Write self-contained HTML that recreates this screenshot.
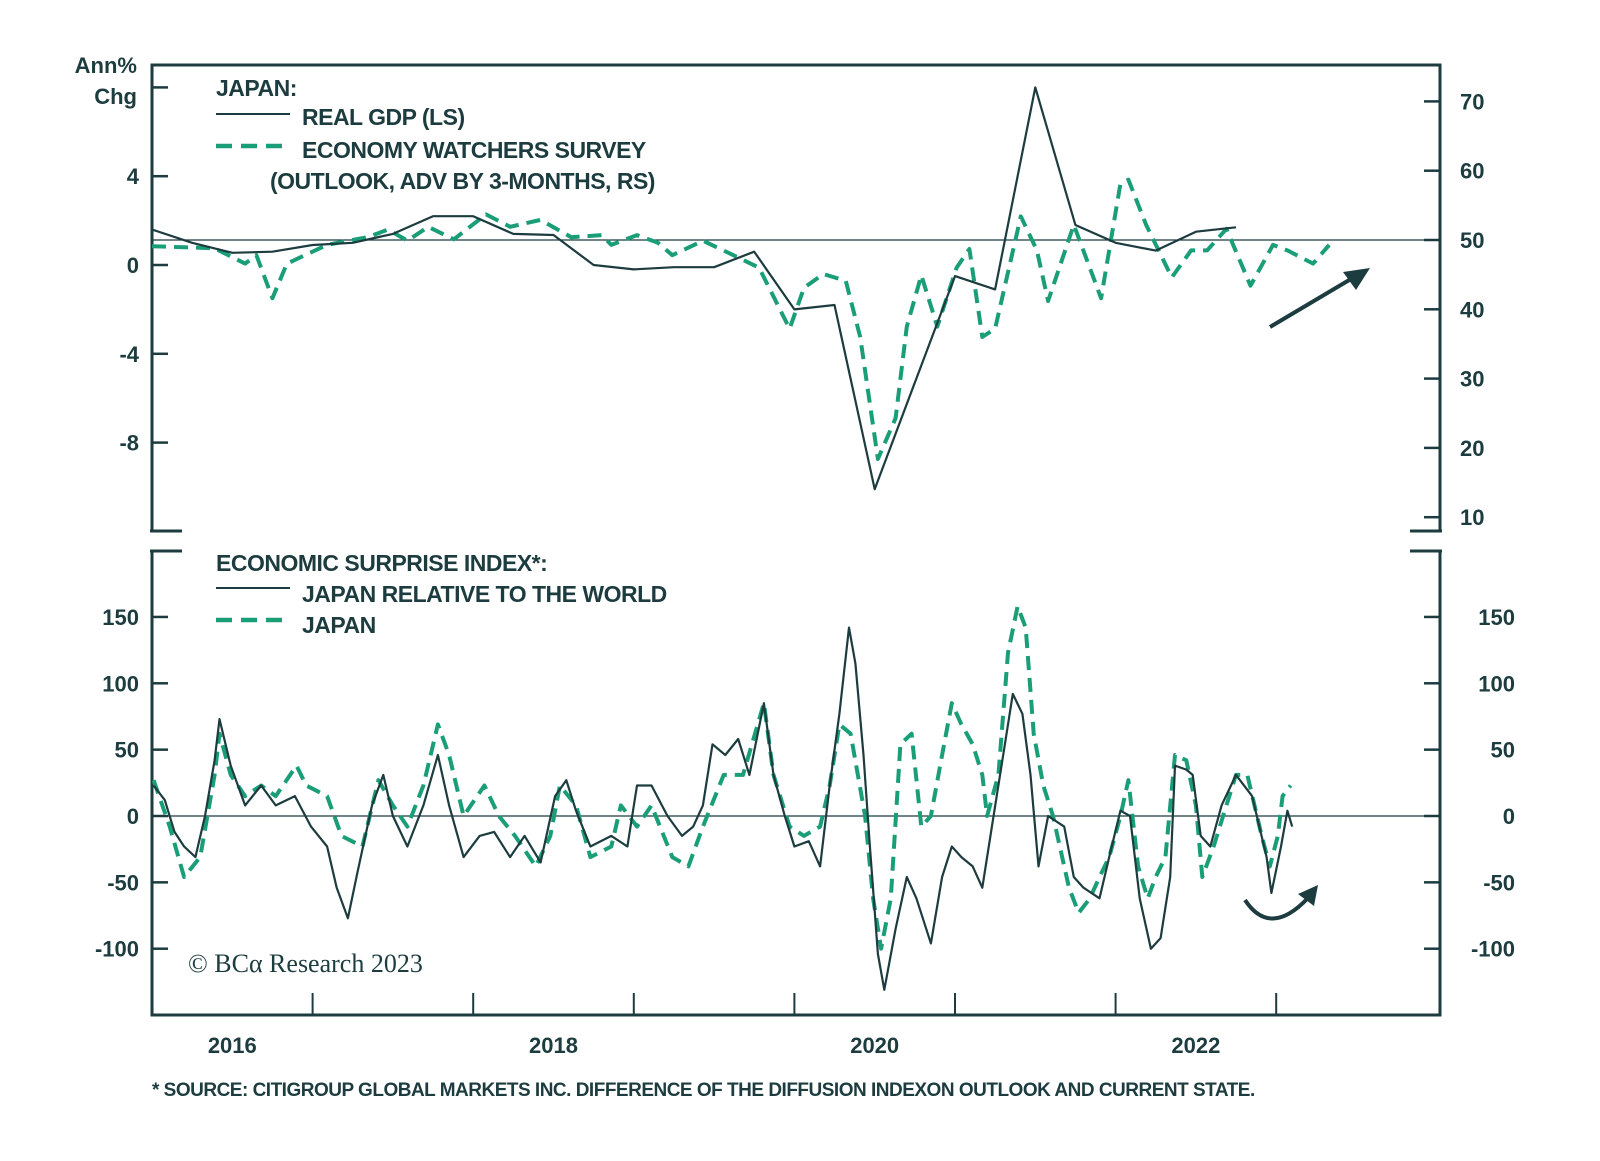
<!DOCTYPE html>
<html><head><meta charset="utf-8"><style>
body{margin:0;background:#fff;width:1600px;height:1156px;overflow:hidden}
svg text{font-family:"Liberation Sans Narrow","Liberation Sans",sans-serif;fill:#1d3c3f;font-weight:bold}
</style></head><body>
<svg id="c" width="1600" height="1156" viewBox="0 0 1600 1156"></svg>
<script>
// ---- data ----
const gdpDates=[2016.0,2016.25,2016.5,2016.75,2017.0,2017.25,2017.5,2017.75,2018.0,2018.25,2018.5,2018.75,2019.0,2019.25,2019.5,2019.75,2020.0,2020.25,2020.5,2020.75,2021.0,2021.25,2021.5,2021.75,2022.0,2022.25,2022.5,2022.75];
const gdpValues=[1.6,1.0,0.55,0.6,0.9,1.0,1.4,2.2,2.2,1.4,1.35,0.0,-0.2,-0.1,-0.1,0.6,-2.0,-1.8,-10.1,-5.3,-0.5,-1.1,8.0,1.8,1.0,0.65,1.5,1.7];
const ewsDates=[2016.0,2016.39,2016.58,2016.65,2016.75,2016.84,2017.09,2017.34,2017.47,2017.59,2017.72,2017.88,2018.08,2018.23,2018.42,2018.61,2018.80,2018.86,2019.02,2019.15,2019.24,2019.43,2019.62,2019.78,2019.97,2020.06,2020.18,2020.32,2020.41,2020.52,2020.63,2020.70,2020.79,2020.89,2021.01,2021.09,2021.17,2021.25,2021.41,2021.51,2021.58,2021.74,2021.91,2022.03,2022.08,2022.19,2022.35,2022.47,2022.57,2022.69,2022.84,2022.98,2023.07,2023.23,2023.33];
const ewsValues=[49.1,48.8,46.6,47.8,41.6,46.6,49.3,50.4,51.5,49.9,51.9,50.1,53.7,51.9,52.9,50.4,50.7,49.3,50.7,49.6,47.8,49.9,47.8,46.0,37.2,43.1,45.1,44.1,36.0,18.4,24.3,37.5,44.9,37.5,46.0,48.7,36.0,37.2,53.4,48.5,41.2,52.2,41.6,58.1,58.7,52.2,44.6,48.5,48.5,51.6,43.4,49.3,48.5,46.6,49.3];
const relDates=[2016.01,2016.08,2016.14,2016.20,2016.27,2016.33,2016.39,2016.42,2016.49,2016.58,2016.68,2016.77,2016.89,2016.99,2017.09,2017.15,2017.22,2017.28,2017.37,2017.44,2017.50,2017.59,2017.69,2017.78,2017.85,2017.94,2018.04,2018.13,2018.23,2018.32,2018.42,2018.51,2018.58,2018.64,2018.73,2018.86,2018.96,2019.02,2019.11,2019.21,2019.30,2019.37,2019.43,2019.49,2019.57,2019.65,2019.72,2019.81,2019.87,2019.94,2020.00,2020.09,2020.16,2020.22,2020.28,2020.34,2020.38,2020.43,2020.47,2020.52,2020.56,2020.63,2020.70,2020.76,2020.85,2020.92,2020.98,2021.04,2021.11,2021.17,2021.23,2021.30,2021.36,2021.42,2021.47,2021.52,2021.58,2021.68,2021.74,2021.80,2021.90,2021.96,2022.03,2022.09,2022.15,2022.22,2022.28,2022.34,2022.37,2022.44,2022.48,2022.53,2022.59,2022.66,2022.75,2022.85,2022.94,2022.97,2023.03,2023.07,2023.10];
const relValues=[23,12,-12,-23,-31,0,42,73,38,8,23,8,15,-8,-23,-54,-77,-42,8,31,0,-23,8,46,8,-31,-15,-12,-31,-15,-35,15,27,4,-23,-15,-23,23,23,0,-15,-8,8,54,46,58,31,85,31,0,-23,-19,-38,23,77,142,115,46,-23,-104,-131,-85,-46,-62,-96,-46,-23,-31,-38,-54,-8,46,92,77,31,-38,0,-8,-46,-54,-62,-31,4,0,-62,-100,-92,-46,38,35,31,-15,-23,8,31,15,-31,-58,-23,4,-8];
const japDates=[2016.01,2016.11,2016.20,2016.30,2016.39,2016.42,2016.49,2016.58,2016.68,2016.77,2016.90,2016.96,2017.09,2017.18,2017.31,2017.41,2017.50,2017.59,2017.69,2017.78,2017.85,2017.94,2018.07,2018.16,2018.26,2018.39,2018.48,2018.54,2018.64,2018.73,2018.86,2018.92,2019.02,2019.11,2019.24,2019.34,2019.43,2019.56,2019.68,2019.81,2019.87,2019.97,2020.06,2020.16,2020.22,2020.28,2020.35,2020.44,2020.49,2020.54,2020.60,2020.66,2020.73,2020.79,2020.85,2020.92,2020.98,2021.04,2021.11,2021.17,2021.20,2021.27,2021.33,2021.39,2021.44,2021.49,2021.55,2021.61,2021.71,2021.77,2021.84,2021.90,2021.96,2022.03,2022.08,2022.14,2022.20,2022.25,2022.31,2022.37,2022.44,2022.50,2022.54,2022.61,2022.69,2022.75,2022.82,2022.91,2022.96,2023.01,2023.04,2023.09];
const japValues=[27,-8,-46,-31,31,62,31,15,23,15,38,23,15,-15,-23,27,8,-8,23,69,46,0,23,0,-15,-38,-15,23,8,-31,-23,8,-8,8,-31,-38,-8,31,31,85,31,-8,-15,-8,23,69,62,0,-62,-100,-62,54,62,-8,0,46,85,69,54,31,0,31,123,158,142,62,23,0,-54,-73,-62,-46,-31,0,27,-38,-62,-46,-31,46,42,8,-46,-23,8,31,31,-15,-38,-15,15,23];
const xTickYears=[2017,2018,2019,2020,2021,2022,2023];
const xLabels=["2016","2018","2020","2022"];
const xLabelPos=[2016.5,2018.5,2020.5,2022.5];
const leftTopTicks=[8,4,0,-4,-8];
const leftTopLabels=["","4","0","-4","-8"];
const rightTopTicks=[70,60,50,40,30,20,10];
const botTicks=[150,100,50,0,-50,-100];

// ---- scales ----
const X0=152,X1=1440,T0=2016,T1=2024.02;
const x=t=>X0+(t-T0)/(T1-T0)*(X1-X0);
const TY0=65,TY1=531;
const yL=v=>265-v*22.2;
const yR=v=>240-(v-50)*6.93;
const yB=v=>816-v*1.327;
const DARK="#1d3c3f",GREEN="#1a9e78";
const svg=document.getElementById('c');
const NS="http://www.w3.org/2000/svg";
function mk(tag,attrs,parent){const e=document.createElementNS(NS,tag);for(const k in attrs)e.setAttribute(k,attrs[k]);(parent||svg).appendChild(e);return e;}
function line(x1,y1,x2,y2,w,c){return mk('line',{x1,y1,x2,y2,stroke:c||DARK,'stroke-width':w});}
function txt(s,xx,yy,size,anchor){const t=mk('text',{x:xx,y:yy,'font-size':size,'text-anchor':anchor||'start'});t.textContent=s;return t;}

let f;
f=mk('path',{d:`M${X0},${TY1} V${TY0} H${X1} V${TY1} M${X0-2},${TY1} h32 M${X1+2},${TY1} h-32`,fill:'none',stroke:DARK,'stroke-width':3});

f=mk('path',{d:`M${X0},551 V1015 H${X1} V551 M${X0-2},551 h32 M${X1+2},551 h-32`,fill:'none',stroke:DARK,'stroke-width':3});


f=line(X0,yR(50),X1,yR(50),1.3);

f=line(X0,yB(0),X1,yB(0),1.3);


leftTopTicks.forEach((v,i)=>{line(X0,yL(v),X0+16,yL(v),2.5);
 if(leftTopLabels[i]){const t=txt(leftTopLabels[i],139,yL(v)+8,22,'end');}});
rightTopTicks.forEach(v=>{line(X1-16,yR(v),X1,yR(v),2.5);
 const t=txt(String(v),1460,yR(v)+8,22);});
botTicks.forEach(v=>{line(X0,yB(v),X0+16,yB(v),2.5);line(X1-16,yB(v),X1,yB(v),2.5);
 let t=txt(String(v),139,yB(v)+8,22,'end');
 t=txt(String(v),1515,yB(v)+8,22,'end');});
xTickYears.forEach(yr=>{line(x(yr),1015,x(yr),993,2);});
xLabels.forEach((s,i)=>{const t=txt(s,x(xLabelPos[i]),1053,22,'middle');});

function path(dates,vals,ys,attrs,name){const d=dates.map((t,i)=>(i?'L':'M')+x(t).toFixed(1)+','+ys(vals[i]).toFixed(1)).join(' ');
 const p=mk('path',Object.assign({d,fill:'none','stroke-linejoin':'round'},attrs));return p;}
path(ewsDates,ewsValues,yR,{stroke:GREEN,'stroke-width':4,'stroke-dasharray':'14 8'},'economy-watchers-line');
path(gdpDates,gdpValues,yL,{stroke:DARK,'stroke-width':2.2},'real-gdp-line');
path(japDates,japValues,yB,{stroke:GREEN,'stroke-width':4,'stroke-dasharray':'14 8'},'japan-surprise-line');
path(relDates,relValues,yB,{stroke:DARK,'stroke-width':2.2},'japan-relative-line');

f=mk('path',{d:'M1270,327 L1356,276',stroke:DARK,'stroke-width':4,fill:'none'});
f=mk('path',{d:'M1370,268 L1343,272 L1356,290 Z',fill:DARK});
f=mk('path',{d:'M1245,900 Q1270,938 1308,898',stroke:DARK,'stroke-width':4,fill:'none'});
f=mk('path',{d:'M1318,885 L1298,894 L1314,906 Z',fill:DARK});

function leg(s,xx,yy,name){const t=txt(s,xx,yy,23);t.setAttribute('letter-spacing','-0.5');return t;}
leg('JAPAN:',216,96,'top-legend-title');
f=line(216,114,290,114,2);
leg('REAL GDP (LS)',302,125,'legend-gdp');
f=line(216,146,290,146,4.5,GREEN);f.setAttribute('stroke-dasharray','16 9');
leg('ECONOMY WATCHERS SURVEY',302,158,'legend-ews');
leg('(OUTLOOK, ADV BY 3-MONTHS, RS)',270,189,'legend-ews-note');
leg('ECONOMIC SURPRISE INDEX*:',216,571,'bottom-legend-title');
f=line(216,588,290,588,2);
leg('JAPAN RELATIVE TO THE WORLD',302,602,'legend-relative');
f=line(216,620,290,620,4.5,GREEN);f.setAttribute('stroke-dasharray','16 9');
leg('JAPAN',302,633,'legend-japan');
f=txt('Ann%',137,73,22,'end');
f=txt('Chg',137,104,22,'end');
f=txt('© BCα Research 2023',188,972,26);f.setAttribute('style','font-family:"Liberation Serif",serif;font-weight:normal');
f=txt('* SOURCE: CITIGROUP GLOBAL MARKETS INC. DIFFERENCE OF THE DIFFUSION INDEXON OUTLOOK AND CURRENT STATE.',152,1096,19);f.setAttribute('letter-spacing','-0.5');
</script>
</body></html>
